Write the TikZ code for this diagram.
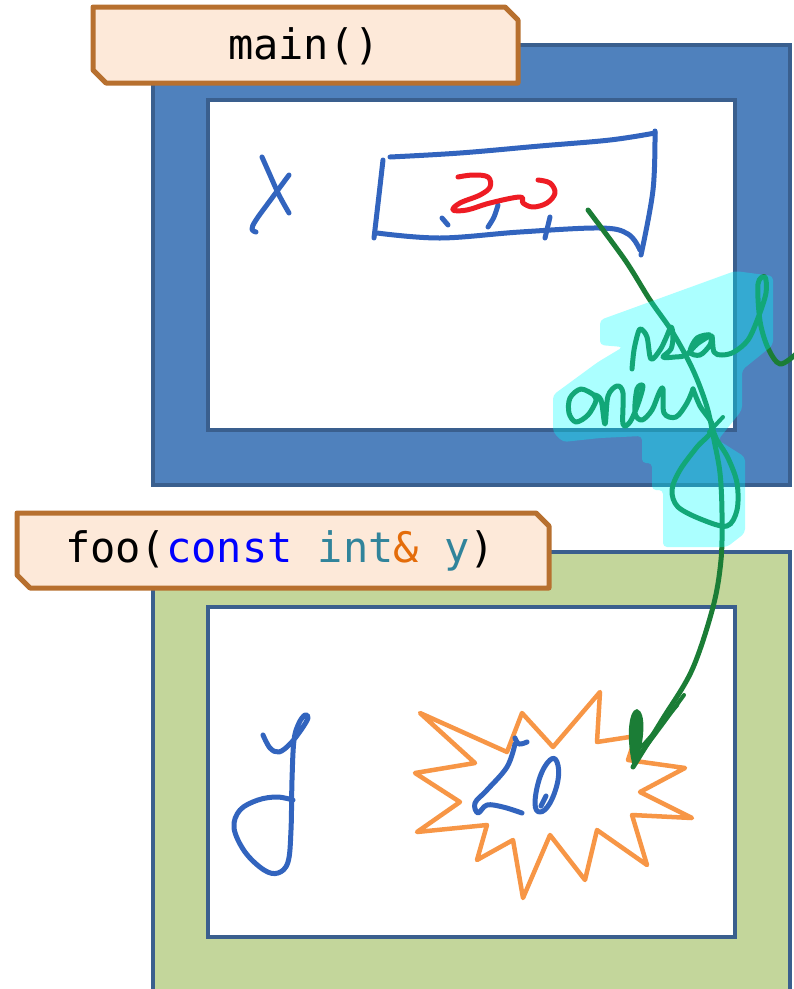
\documentclass[tikz,border=0pt]{standalone}
\usepackage{fontspec}
\newfontfamily\codefont{DejaVu Sans Mono}
\definecolor{frameblue}{HTML}{4F81BD}
\definecolor{frameedge}{HTML}{3A5F8E}
\definecolor{framegreen}{HTML}{C3D69B}
\definecolor{tagfill}{HTML}{FDE9D9}
\definecolor{tagedge}{HTML}{B7702F}
\definecolor{inkblue}{HTML}{3264BE}
\definecolor{inkred}{HTML}{EE1C24}
\definecolor{inkgreen}{HTML}{1B7D36}
\definecolor{burst}{HTML}{F79646}
\definecolor{kwblue}{HTML}{0000FF}
\definecolor{typeteal}{HTML}{31849B}
\definecolor{amporange}{HTML}{E46C0A}
\definecolor{marker}{HTML}{00FFFF}
\begin{document}
\begin{tikzpicture}[x=1pt,y=-1pt,
  outerframe/.style={draw=frameedge,line width=4pt},
  innerframe/.style={draw=frameedge,fill=white,line width=4pt},
  tag/.style={draw=tagedge,fill=tagfill,line width=5pt,line join=round},
  tagtext/.style={font=\codefont\fontsize{42}{42}\selectfont,inner sep=0pt,anchor=center},
  ink/.style={line width=5pt,line cap=round,line join=round},
  pen/.style={ink,draw=inkblue},
  redpen/.style={ink,draw=inkred},
  greenpen/.style={ink,draw=inkgreen},
  burstline/.style={draw=burst,line width=4.5pt,line join=round},
  highlight/.style={fill=marker,fill opacity=0.33,rounded corners=4pt}]

\useasboundingbox (0,0) rectangle (794,989);
\clip (0,0) rectangle (794,989);

% ---------- stack frame of main() ----------
\filldraw[fill=frameblue,outerframe] (153,45) rectangle (790,485);
\filldraw[innerframe] (208,100) rectangle (735,430);
\draw[tag] (93,7) -- (505,7) -- (518,20) -- (518,83) -- (106,83) -- (93,70) -- cycle;
\node[tagtext] (mainlbl) at (304,46) {main()};

% ---------- stack frame of foo() ----------
\filldraw[fill=framegreen,outerframe] (153,552) rectangle (790,1010);
\filldraw[innerframe] (208,607) rectangle (735,937);
\draw[tag] (17,513) -- (536,513) -- (549,526) -- (549,588) -- (30,588) -- (17,575) -- cycle;
\node[tagtext] (foolbl) at (280,551) {foo(\textcolor{kwblue}{const} \textcolor{typeteal}{int}\textcolor{amporange}{\&} \textcolor{typeteal}{y})};

% ---------- variable x and its box holding 20 ----------
\draw[pen] plot[smooth,tension=0.6] coordinates {(262,157) (270,175) (279,195) (289,213)};
\draw[pen] plot[smooth,tension=0.6] coordinates {(289,175) (272,198) (256,220) (252,229) (256,232)};
\draw[pen] plot[smooth,tension=0.6] coordinates {(383,160) (379,195) (374,238)};
\draw[pen] plot[smooth,tension=0.6] coordinates {(390,157) (460,153) (540,146) (610,140) (655,133)};
\draw[pen] plot[smooth,tension=0.6] coordinates {(655,131) (653,190) (641,255)};
\draw[pen] plot[smooth,tension=0.6] coordinates {(377,233) (440,238) (520,232) (600,228) (628,234) (640,250)};
\draw[pen] (442,218) -- (448,225);
\draw[pen] plot[smooth,tension=0.6] coordinates {(498,205) (494,217) (488,227)};
\draw[pen] (550,217) -- (545,238);
\draw[redpen] plot[smooth,tension=0.6] coordinates {(458,177) (473,175) (488,177) (490,187) (480,195) (460,203) (453,210) (467,210) (490,203) (520,197) (523,203) (533,207) (547,203) (555,193) (550,183) (538,180)};
\node[inner sep=0pt] (boxx) at (515,196) {};

% ---------- variable y and the burst holding 20 ----------
\draw[pen] plot[smooth,tension=0.6] coordinates {(263,735) (270,748) (279,752) (290,744) (301,730) (308,718) (305,715) (299,723) (294,740) (292,780) (291,830) (288,862) (278,873) (264,870) (245,852) (234,828) (240,810) (258,800) (277,797) (293,800)};
\draw[burstline] (420,713) -- (507,752) -- (522,713) -- (553,747) -- (600,692) -- (597,742)
  -- (636,736) -- (628,760) -- (685,768) -- (640,792) -- (692,818) -- (632,815) -- (647,865)
  -- (597,830) -- (585,880) -- (550,835) -- (523,898) -- (513,840) -- (477,860) -- (487,825)
  -- (417,832) -- (460,802) -- (415,773) -- (475,763) -- cycle;
\node[inner sep=0pt] (burstc) at (550,790) {};
\draw[pen] plot[smooth,tension=0.6] coordinates {(515,738) (519,744) (527,742)};
\draw[pen] plot[smooth,tension=0.6] coordinates {(515,744) (507,767) (487,790) (475,803) (478,813) (487,805) (503,807) (522,813)};
\draw[pen] plot[smooth cycle,tension=0.7] coordinates {(557,762) (550,760) (540,777) (535,803) (540,812) (550,803) (558,780)};
\draw[pen] (541,806) -- (546,796);

% ---------- the reference arrow, labelled "real only" ----------
\coordinate (refstart) at (588,210);
\coordinate (reftip) at (633,767);
\draw[greenpen] plot[smooth,tension=0.55] coordinates {(refstart) (625,260) (650,300) (673,333) (693,370) (707,407) (714,440) (720,473) (722,513) (721,560) (713,607) (692,670) (662,720) (reftip)};
\fill[inkgreen] (reftip) .. controls (626,740) and (628,710) .. (637,709) .. controls (647,712) and (644,742) .. (637,764) -- cycle;
\draw[greenpen,line width=4pt] (636,760) -- (662,725) -- (684,695);
\draw[greenpen,line width=3pt] (640,748) -- (678,705);
% handwritten "real"
\draw[greenpen] plot[smooth,tension=0.55] coordinates {(632,369) (634,350) (638,333) (641,329) (647,337) (651,359) (660,350) (666,338) (671,327) (673,336) (671,349) (663,357) (675,357) (686,355) (697,344) (710,335) (697,338) (690,352) (700,355) (710,345) (712,336) (714,352) (722,355) (734,352) (748,340) (758,318) (766,293) (765,277) (758,284) (760,321) (768,348) (780,364) (796,354)};
% handwritten "only"
\draw[greenpen] plot[smooth,tension=0.55] coordinates {(594,395) (581,389) (570,398) (569,413) (576,422) (588,415) (596,401) (594,395) (601,400) (605,424) (608,396) (617,386) (623,393) (623,424) (630,422) (638,404) (643,386) (637,389) (635,413) (642,420) (652,410) (659,393) (663,389) (664,413) (676,417) (687,403) (693,389)};
\draw[greenpen] plot[smooth,tension=0.55] coordinates {(693,389) (700,406) (713,428) (697,447) (680,470) (672,490) (678,507) (703,520) (727,526) (737,510) (737,483) (728,458) (717,440) (713,430)};
\draw[greenpen,line width=4pt] (709,432) -- (723,417);
% marker highlight over the label
\fill[highlight] (600,320) -- (735,271) -- (773,276) -- (773,345) -- (742,370) -- (742,410)
  -- (718,440) -- (745,457) -- (745,533) -- (727,547) -- (663,547) -- (663,490) -- (652,490)
  -- (652,463) -- (642,463) -- (642,436) -- (600,438) -- (563,442) -- (553,432) -- (553,395) -- (598,362)
  -- (623,347) -- (600,345) -- cycle;
\end{tikzpicture}
\end{document}
